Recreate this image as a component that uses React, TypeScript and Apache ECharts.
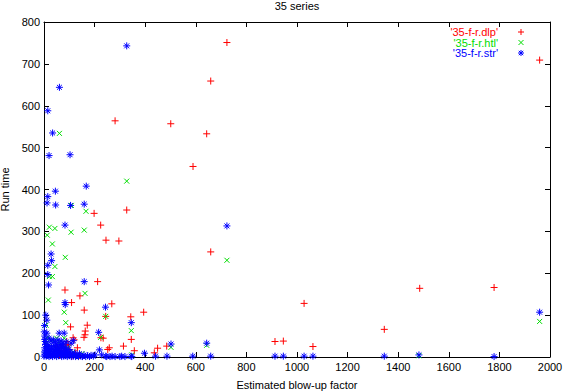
import React, { useEffect, useRef } from 'react';
import * as echarts from 'echarts';

const titleText = '35 series';
const xAxisName = 'Estimated blow-up factor';
const yAxisName = 'Run time';
const seriesNames = ["'35-f-r.dlp'", "'35-f-r.htl'", "'35-f-r.str'"];
const seriesColors = ['#ff0000', '#00dd00', '#0000ff'];

const dlpPoints: [number, number][] = [
  [723, 751], [659, 659], [281, 564], [501, 557], [643, 533], [589, 455], [198, 343], [327, 351],
  [224, 315], [245, 279], [296, 277], [659, 251], [212, 180], [83, 160], [142, 146], [109, 130],
  [159, 112], [268, 127], [394, 107], [244, 97], [343, 96], [105, 72], [171, 76], [163, 62],
  [162, 53], [158, 47], [225, 46], [234, 45], [115, 46], [119, 41], [90, 37], [96, 29], [132, 22],
  [345, 42], [314, 26], [258, 22], [357, 15], [449, 21], [485, 26], [436, 10], [252, 18], [57, 17],
  [87, 27], [913, 37], [946, 38], [1028, 128], [1063, 25], [1345, 66], [1485, 164], [1959, 709],
  [1779, 166],
  [40, 8], [55, 14], [62, 4], [70, 22], [78, 10], [85, 30], [92, 6], [100, 18], [110, 2], [125, 9],
  [140, 4], [48, 25]
];

const htlPoints: [number, number][] = [
  [327, 420], [61, 534], [108, 362], [166, 348], [21, 310], [43, 307], [107, 298], [159, 303],
  [13, 291], [33, 270], [84, 238], [43, 216], [21, 192], [33, 192], [723, 231], [17, 136],
  [162, 152], [80, 107], [244, 97], [86, 82], [8, 76], [345, 63], [224, 47], [11, 45], [50, 45],
  [80, 45], [57, 17], [502, 23], [643, 28], [1482, 3], [1959, 85], [347, 5],
  [5, 5], [15, 25], [25, 12], [35, 3], [45, 20], [55, 10], [65, 28], [75, 4], [85, 15], [95, 22],
  [105, 6], [115, 12], [130, 3], [150, 8], [10, 35], [30, 40], [60, 35]
];

const strPoints: [number, number][] = [
  [327, 743], [61, 644], [15, 588], [34, 535], [20, 481], [103, 483], [167, 408], [45, 396],
  [15, 383], [12, 368], [46, 363], [105, 362], [159, 365], [83, 315], [28, 246], [30, 230],
  [15, 219], [15, 197], [18, 172], [159, 180], [723, 313], [83, 130], [84, 125], [243, 119],
  [7, 100], [11, 88], [345, 82], [216, 59], [11, 57], [60, 57], [80, 57], [37, 41], [116, 39],
  [107, 33], [502, 31], [643, 33], [219, 17], [397, 9], [202, 5], [228, 5], [1959, 107],
  [195, 2], [244, 2], [269, 2], [307, 2], [344, 2], [441, 2], [486, 2], [588, 2], [659, 2],
  [248, 1], [261, 1], [281, 1], [300, 1], [320, 1], [347, 1], [913, 2], [946, 2], [1028, 2],
  [1063, 2], [1345, 2], [1482, 5], [1779, 1],
  [0, 2], [2, 12], [3, 22], [4, 5], [6, 30], [7, 15], [9, 2], [10, 8], [12, 25], [13, 18], [15, 4],
  [17, 12], [19, 28], [20, 1], [22, 8], [24, 20], [26, 3], [28, 14], [30, 24], [32, 6], [34, 1],
  [36, 18], [38, 10], [40, 28], [42, 3], [44, 14], [46, 22], [48, 7], [50, 1], [52, 17], [54, 27],
  [56, 10], [58, 3], [60, 20], [62, 13], [64, 30], [66, 5], [68, 24], [70, 1], [72, 15], [74, 8],
  [76, 26], [78, 2], [80, 19], [82, 11], [84, 3], [86, 22], [88, 7], [90, 14], [92, 1], [95, 9],
  [98, 18], [100, 3], [104, 12], [108, 1], [112, 6], [116, 2], [120, 10], [125, 1], [130, 4],
  [136, 1], [140, 8], [146, 2], [152, 1], [158, 5], [165, 1], [172, 3], [180, 1], [186, 4],
  [3, 42], [5, 37], [20, 45], [28, 38], [45, 35], [55, 40], [68, 38], [75, 33], [88, 36],
  [1, 60], [2, 75], [3, 50]
];

const xMin = 0, xMax = 2000, xStep = 200;
const yMin = 0, yMax = 800, yStep = 100;

const FONT = '"Liberation Sans", Arial, Helvetica, sans-serif';
const FS = 11;

const plusPath = 'path://M0,5L10,5M5,0L5,10';
const crossPath = 'path://M0,0L10,10M0,10L10,0';
const starPath = 'path://M0,5L10,5M5,0L5,10M1.5,1.5L8.5,8.5M1.5,8.5L8.5,1.5';

export default function App() {
  const ref = useRef<HTMLDivElement>(null);
  useEffect(() => {
    if (!ref.current) return;
    const chart = echarts.init(ref.current, null, { renderer: 'svg' });

    const axisCommon = {
      axisLine: { show: true, onZero: false, lineStyle: { color: '#000', width: 1 } },
      axisTick: { show: true, inside: true, length: 5, lineStyle: { color: '#000', width: 1 } },
      splitLine: { show: false },
    };
    const plainLabel = (v: number) => String(v);

    const rows = [32, 42.5, 53];
    const legendGraphics: any[] = [];
    seriesNames.forEach((name, i) => {
      legendGraphics.push({
        type: 'text', x: 498, y: rows[i],
        style: { text: name, fill: seriesColors[i], font: `${FS}px ${FONT}`, align: 'right', verticalAlign: 'middle' },
      });
      const lines: number[][] = [];
      if (i === 0 || i === 2) { lines.push([-3, 0, 3, 0], [0, -3, 0, 3]); }
      if (i === 1) { lines.push([-2.5, -2.5, 2.5, 2.5], [-2.5, 2.5, 2.5, -2.5]); }
      if (i === 2) { lines.push([-2.2, -2.2, 2.2, 2.2], [-2.2, 2.2, 2.2, -2.2]); }
      legendGraphics.push({
        type: 'group', x: 521, y: rows[i],
        children: lines.map((l) => ({
          type: 'line', shape: { x1: l[0], y1: l[1], x2: l[2], y2: l[3] },
          style: { stroke: seriesColors[i], lineWidth: 1 },
        })),
      });
    });

    const symbols = [plusPath, crossPath, starPath];
    const sizes = [7, 5, 7];
    const datasets = [dlpPoints, htlPoints, strPoints];

    chart.setOption({
      animation: false,
      backgroundColor: '#fff',
      textStyle: { fontFamily: FONT },
      title: {
        text: titleText, left: 297, top: 0, padding: 0, textAlign: 'center',
        textStyle: { fontSize: FS, fontWeight: 'normal', color: '#000', fontFamily: FONT },
      },
      grid: { left: 44, right: 13, top: 22, bottom: 35, containLabel: false, outerBoundsMode: 'none' },
      xAxis: [
        {
          type: 'value', min: xMin, max: xMax, interval: xStep, position: 'bottom',
          name: xAxisName, nameLocation: 'middle', nameGap: 22,
          nameTextStyle: { fontSize: FS, color: '#000', fontFamily: FONT },
          axisLabel: { margin: 4, fontSize: FS, color: '#000', fontFamily: FONT, formatter: plainLabel },
          ...axisCommon,
        },
        {
          type: 'value', min: xMin, max: xMax, interval: xStep, position: 'top',
          axisLabel: { show: false }, ...axisCommon,
        },
      ],
      yAxis: [
        {
          type: 'value', min: yMin, max: yMax, interval: yStep, position: 'left',
          name: yAxisName, nameLocation: 'middle', nameGap: 31, nameRotate: 90,
          nameTextStyle: { fontSize: FS, color: '#000', fontFamily: FONT },
          axisLabel: { margin: 4, fontSize: FS, color: '#000', fontFamily: FONT, formatter: plainLabel },
          ...axisCommon,
        },
        {
          type: 'value', min: yMin, max: yMax, interval: yStep, position: 'right',
          axisLabel: { show: false }, ...axisCommon,
        },
      ],
      series: seriesNames.map((name, i) => ({
        type: 'scatter', name, xAxisIndex: 0, yAxisIndex: 0,
        data: datasets[i],
        symbol: symbols[i], symbolSize: sizes[i],
        itemStyle: { color: 'rgba(0,0,0,0)', borderColor: seriesColors[i], borderWidth: 1, opacity: 1 },
        emphasis: { disabled: true },
        clip: false,
      })),
      graphic: legendGraphics,
    });
    return () => chart.dispose();
  }, []);
  return <div ref={ref} style={{ position: 'fixed', left: 0, top: 0, width: 563, height: 392 }} />;
}
